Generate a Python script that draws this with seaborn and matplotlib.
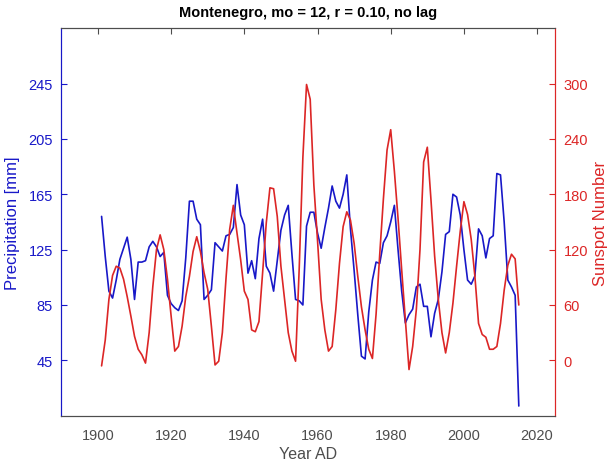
import numpy as np
import pandas as pd
import matplotlib
matplotlib.use("Agg")
import matplotlib.pyplot as plt
import seaborn as sns

years = list(range(1901, 2016))

precip = [149, 120, 95, 90, 103, 118, 126, 134, 118, 89,
          116, 116, 117, 127, 131, 127, 120, 123, 92, 86,
          83, 81, 88, 119, 160, 160, 147, 143, 89, 92,
          96, 130, 127, 124, 135, 136, 141, 172, 150, 143,
          108, 117, 104, 133, 147, 113, 108, 95, 117, 139,
          150, 157, 122, 89, 88, 85, 142, 152, 152, 137,
          126, 141, 155, 171, 160, 155, 165, 179, 140, 110,
          78, 48, 46, 80, 103, 116, 115, 130, 135, 145,
          157, 125, 95, 72, 78, 82, 98, 100, 84, 84,
          62, 79, 89, 109, 136, 138, 165, 163, 150, 125,
          103, 100, 106, 140, 135, 119, 133, 135, 180, 179,
          145, 103, 98, 92, 12]

sunspots = [-6, 22, 66, 92, 102, 100, 88, 69, 48, 26,
            12, 6, -3, 30, 80, 120, 136, 120, 88, 48,
            10, 15, 37, 69, 91, 118, 134, 118, 95, 77,
            37, -5, -1, 30, 89, 142, 168, 138, 109, 75,
            66, 33, 31, 42, 95, 149, 187, 186, 156, 102,
            66, 30, 10, -1, 100, 220, 299, 283, 190, 130,
            66, 33, 10, 15, 55, 105, 145, 161, 152, 127,
            91, 58, 33, 12, 2, 50, 115, 175, 228, 250,
            205, 154, 98, 44, -10, 15, 55, 120, 215, 231,
            174, 113, 66, 30, 8, 30, 62, 102, 140, 172,
            158, 131, 91, 40, 28, 25, 12, 12, 15, 40,
            76, 103, 115, 110, 60]

df = pd.DataFrame({"year": years, "precip": precip, "sun": sunspots})

sns.set_style("white")
plt.rcParams['font.family'] = ['Liberation Sans', 'DejaVu Sans']

blue = "#1818c8"
red = "#dc2626"
gray = "#4d4d4d"

fig = plt.figure(figsize=(6.09, 4.64), dpi=100)
ax = fig.add_axes([0.1007, 0.102, 0.8113, 0.835])
ax2 = ax.twinx()

sns.lineplot(data=df, x="year", y="precip", ax=ax, color=blue, linewidth=1.2)
sns.lineplot(data=df, x="year", y="sun", ax=ax2, color=red, linewidth=1.2)

ax.set_xlim(1890, 2025)
ax.set_ylim(5, 285)
ax2.set_ylim(-60, 360)
ax.set_xticks([1900, 1920, 1940, 1960, 1980, 2000, 2020])
ax.set_yticks([45, 85, 125, 165, 205, 245])
ax2.set_yticks([0, 60, 120, 180, 240, 300])

ax.tick_params(axis='x', direction='in', top=True, length=4, colors=gray,
               labelsize=10.5, labelcolor=gray, pad=9)
ax.tick_params(axis='y', direction='in', length=4, colors=blue,
               labelsize=10.5, labelcolor=blue, pad=6)
ax2.tick_params(axis='y', direction='in', length=4, colors=red,
                labelsize=10.5, labelcolor=red, pad=6)

for a in (ax, ax2):
    for s in a.spines.values():
        s.set_linewidth(0.8)
    a.spines['top'].set_color(gray)
    a.spines['bottom'].set_color(gray)
    a.spines['left'].set_color(blue)
    a.spines['right'].set_color(red)

ax.set_xlabel("Year AD", color=gray, fontsize=11.5, labelpad=3)
ax.set_ylabel("Precipitation [mm]", color=blue, fontsize=12, labelpad=6)
ax2.set_ylabel("Sunspot Number", color=red, fontsize=12, labelpad=3)
ax.set_title("Montenegro, mo = 12, r = 0.10, no lag", fontsize=10.5,
             fontweight='bold', color='black', pad=9)

fig.savefig("out.png", dpi=100)
